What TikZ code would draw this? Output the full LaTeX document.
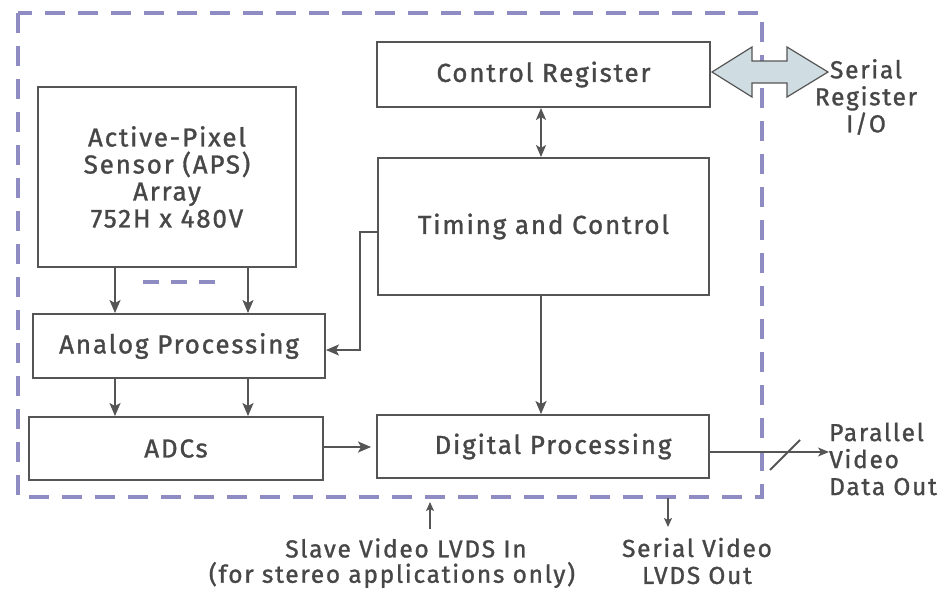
\documentclass[tikz,border=0pt]{standalone}
\usepackage{fontspec}
\setmainfont{Fira Sans}[LetterSpace=7,FakeBold=1.2]
\usetikzlibrary{arrows.meta}
\definecolor{boxline}{HTML}{555555}
\definecolor{txt}{HTML}{474747}
\definecolor{lav}{HTML}{8E8CC2}
\definecolor{bigfill}{HTML}{CFDDE3}
\begin{document}
\begin{tikzpicture}[x=1pt,y=-1pt,
  box/.style={draw=boxline, line width=1.9pt, fill=white, text=txt, align=center,
    inner sep=0pt, font=\fontsize{26}{27}\selectfont},
  lbl/.style={text=txt, align=center, inner sep=0pt, font=\fontsize{24.5}{27}\selectfont},
  arr/.style={draw=boxline, line width=2pt, -{Stealth[length=13pt,width=11pt,inset=3pt]}},
  dbl/.style={draw=boxline, line width=2pt, {Stealth[length=12pt,width=10pt,inset=3pt]}-{Stealth[length=12pt,width=10pt,inset=3pt]}},
  border/.style={draw=lav, line width=4.5pt, dash pattern=on 20pt off 13pt}]
\useasboundingbox (0,0) rectangle (951,592);
\fill[white] (0,0) rectangle (951,592);
% dashed chip outline
\draw[border] (18,13) rectangle (762,497);
\draw[border, line width=3.5pt, dash pattern=on 16pt off 12pt] (143,282) -- (215,282);
% boxes
\node[box, minimum width=333pt, minimum height=65pt] (cr) at (543.5,74.5) {Control Register};
\node[box, minimum width=258pt, minimum height=180pt] (aps) at (167,177) {Active-Pixel\\Sensor (APS)\\Array\\752H x 480V};
\node[box, minimum width=331pt, minimum height=137pt] (tc) at (543.5,226.5) {Timing and Control};
\node[box, minimum width=292pt, minimum height=64pt] (ana) at (179,346) {Analog Processing};
\node[box, minimum width=294pt, minimum height=63pt] (adc) at (176,448.5) {ADCs};
\node[box, minimum width=332pt, minimum height=63pt] (dp) at (543,446.5) {\hspace*{20pt}Digital Processing};
% helper coordinates
\coordinate (xa) at (115,0);
\coordinate (xb) at (248,0);
\coordinate (xc) at (541,0);
\coordinate (yt) at (0,232);
\coordinate (ya) at (0,350);
\coordinate (yd) at (0,447);
\coordinate (yp) at (0,452);
% internal connectors
\draw[arr] (aps.south -| xa) -- (ana.north -| xa);
\draw[arr] (aps.south -| xb) -- (ana.north -| xb);
\draw[arr] (ana.south -| xa) -- (adc.north -| xa);
\draw[arr] (ana.south -| xb) -- (adc.north -| xb);
\draw[arr, shorten >=5pt] (adc.east |- yd) -- (dp.west |- yd);
\draw[dbl] (cr.south -| xc) -- (tc.north -| xc);
\draw[arr] (tc.south -| xc) -- (dp.north -| xc);
\draw[arr] (tc.west |- yt) -- ++(-17,0) |- (ana.east |- ya);
% external labels
\node[lbl, anchor=center] (sr) at (866,97) {Serial\\Register\\I/O};
\node[lbl, align=left, anchor=west] (pv) at (829,459) {Parallel\\Video\\Data Out};
\node[lbl] (so) at (697,561) {Serial Video\\LVDS Out};
\node[lbl] (si1) at (406,548) {Slave Video LVDS In};
\node[lbl] (si2) at (392,575) {(for stereo applications only)};
% serial register big double arrow
\coordinate (bl) at (712,72);
\coordinate (br) at (828,72);
\draw[draw=boxline, line width=1.2pt, fill=bigfill, line join=miter]
  (bl) -- ++(40,-25) -- ++(0,14) -- ++(35,0) -- ++(0,-14) -- (br)
  -- ++(-41,25) -- ++(0,-14) -- ++(-35,0) -- ++(0,14) -- cycle;
% parallel video out
\draw[arr, line width=1.5pt, -{Stealth[length=11pt,width=9pt,inset=3pt]}] (dp.east |- yp) -- (pv.west |- yp);
\coordinate (sl) at (785,455);
\draw[boxline, line width=1.8pt] ([shift={(-15,15)}]sl) -- ([shift={(15,-15)}]sl);
% serial video out
\coordinate (sout) at (668,498);
\draw[arr, line width=1.6pt, -{Stealth[length=9pt,width=8pt,inset=2pt]}] (sout) -- ([yshift=-29pt]sout);
% slave video in
\coordinate (sin) at (430,502);
\draw[arr, line width=1.6pt, -{Stealth[length=9pt,width=8pt,inset=2pt]}] ([yshift=-27pt]sin) -- (sin);
\end{tikzpicture}
\end{document}
